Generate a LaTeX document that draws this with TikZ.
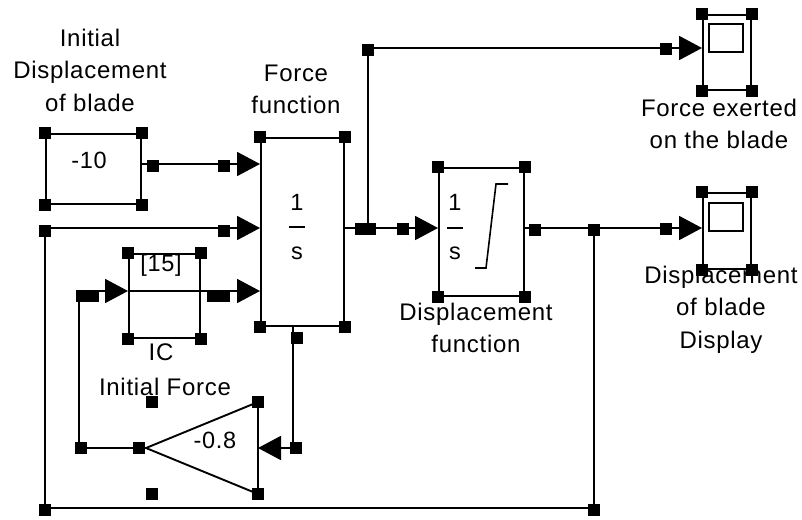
\documentclass[tikz,border=0pt]{standalone}
\usepackage{fontspec}
\setmainfont{Liberation Sans}[LetterSpace=3]
\usetikzlibrary{arrows.meta}
\begin{document}
\begin{tikzpicture}[x=1pt,y=-1pt,line width=1.9pt,
  sq/.style={fill=black,draw=none,minimum size=12pt,inner sep=0pt},
  blk/.style={draw,inner sep=0pt,anchor=north west},
  lab/.style={align=center,inner sep=0pt,anchor=north,font=\fontsize{24}{32.5}\selectfont},
  txt/.style={inner sep=0pt,font=\fontsize{23.5}{28}\selectfont},
  arr/.style={-{Triangle[length=23pt,width=24pt]}},
  thin/.style={line width=1.6pt}]
\useasboundingbox (0,0) rectangle (802,519);

% blocks
\node[blk,minimum width=95pt,minimum height=70pt] (C) at (45,133) {};
\node[blk,minimum width=83pt,minimum height=188pt] (F) at (260,137) {};
\node[blk,minimum width=85pt,minimum height=128pt] (D) at (438,167) {};
\node[blk,minimum width=71pt,minimum height=84pt] (IC) at (128,253) {};
\node[blk,minimum width=48pt,minimum height=75pt] (S1) at (702,14) {};
\node[blk,minimum width=34pt,minimum height=28pt] (S1s) at (708,23) {};
\node[blk,minimum width=48pt,minimum height=76pt] (S2) at (702,192) {};
\node[blk,minimum width=34pt,minimum height=28pt] (S2s) at (708,202) {};
\foreach \b in {C,F,D,IC,S1,S2}
  \foreach \a in {north west,north east,south west,south east}
    \node[sq] at (\b.\a) {};

% gain triangle
\coordinate (Gt) at (146,448);
\coordinate (Gu) at (258,402);
\coordinate (Gl) at (258,494);
\draw (Gt) -- (Gu) -- (Gl) -- cycle;
\node[sq] at (Gu) {};
\node[sq] at (Gl) {};
\node[sq] (Gh1) at (152,402) {};
\node[sq] (Gh2) at (152,494) {};

% block texts
\node[txt] (Ct) at (89,160) {-10};
\node[txt] (F1) at (297,202) {1};
\draw (289,227) -- (305,227);
\node[txt] (Fs) at (297,253) {s};
\node[txt] (D1) at (455,202) {1};
\draw (447,228) -- (463,228);
\node[txt] (Ds) at (455,253) {s};
\draw[thin] (475,268) -- (486,268) -- (496,184) -- (508,184);
\node[txt] (ICt) at (161,265) {[15]};
\draw (IC.west |- 0,291) -- (IC.east |- 0,291);
\node[txt] (Gt1) at (215,440) {-0.8};

% labels
\node[lab] (LC) at (90,28) {Initial\\Displacement\\of blade};
\node[lab] (LF) at (296,64) {Force\\function};
\node[lab] (LD) at (476,302) {Displacement\\function};
\node[lab] (LIC) at (161,343) {IC};
\node[lab] (LIF) at (165,377) {Initial Force};
\node[lab] (LS1) at (719,98) {Force exerted\\on the blade};
\node[lab] (LS2) at (721,265) {Displacement\\of blade\\Display};

% ports and corners
\coordinate (Fin1) at (260,164);
\coordinate (Fin2) at (260,228);
\coordinate (Fin3) at (260,291);
\coordinate (Fout) at (343,228);
\coordinate (Din) at (438,228);
\coordinate (Dout) at (523,228);
\coordinate (S1in) at (702,48);
\coordinate (S2in) at (702,228);
\coordinate (ICin) at (128,291);
\coordinate (ICout) at (199,291);
\coordinate (Gin) at (258,448);
\coordinate (Fbot) at (293,325);
\coordinate (J1) at (368,228);
\coordinate (J2) at (594,228);
\coordinate (K1) at (368,48);
\coordinate (K2) at (594,508);
\coordinate (K3) at (45,508);
\coordinate (K4) at (45,228);
\coordinate (K5) at (293,448);
\coordinate (K6) at (79,448);
\coordinate (K7) at (79,291);

% connectors
\draw[arr] (C.east |- Fin1) -- (Fin1);
\draw[arr] (Fout) -- (Din);
\draw[arr] (J1) -- (K1) -- (S1in);
\draw[arr] (Dout) -- (S2in);
\draw[arr] (J2) -- (K2) -- (K3) -- (K4) -- (Fin2);
\draw[arr] (ICout) -- (Fin3);
\draw[arr] (Fbot) -- (K5) -- (Gin);
\draw[arr] (Gt) -- (K6) -- (K7) -- (ICin);

% line handles
\foreach \p in {(153,166),(224,166),(361,229),(370,229),(403,229),(368,50),(666,49),
  (535,230),(594,230),(666,229),(594,510),(45,510),(45,231),(224,231),
  (213,296),(224,296),(297,338),(296,448),(139,448),(81,448),(82,296),(93,296)}
  \node[sq] at \p {};
\end{tikzpicture}
\end{document}
